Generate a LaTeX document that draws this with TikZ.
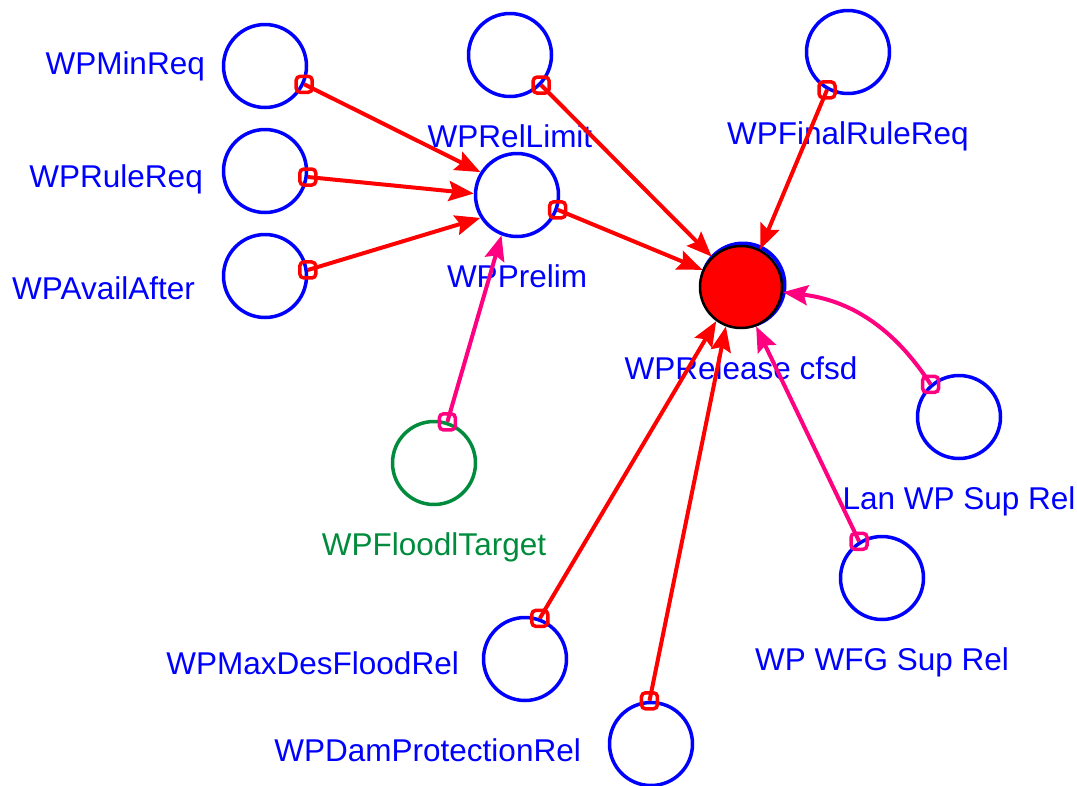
\documentclass[tikz,border=0pt]{standalone}
\usepackage{fontspec}
\setmainfont{Liberation Sans}
\usetikzlibrary{shapes.geometric, arrows.meta, positioning}
\definecolor{vpink}{RGB}{255,0,128}
\definecolor{vgreen}{RGB}{0,140,60}
\tikzstyle{var} = [circle, minimum size=83pt, inner sep=0pt, draw=blue, line width=3.5pt]
\tikzstyle{target} = [var, draw=vgreen]
\tikzstyle{result} = [circle, minimum size=82pt, inner sep=0pt, draw=black, line width=2.5pt, fill=red]
\tikzstyle{lbl} = [text=blue, font=\fontsize{31.5}{32}\selectfont, inner sep=0pt, text height=23pt, text depth=0pt]
\tikzstyle{tail} = [rectangle, rounded corners=4pt, minimum size=16pt, inner sep=0pt, draw=red, line width=3.5pt]
\tikzstyle{ptail} = [tail, draw=vpink]
\tikzstyle{link} = [red, line width=4pt, -{Stealth[length=25pt,width=20pt,inset=4pt]}]
\tikzstyle{plink} = [link, vpink]

\begin{document}
\begin{tikzpicture}[x=1pt, y=-1pt, node distance=81pt]
  \useasboundingbox (0,0) rectangle (1077,785);
  % variables
  \node (minreq) [var] at (265,66) {};
  \node (rulereq) [var] at (265,171) {};
  \node (availafter) [var] at (265,276) {};
  \node (rellimit) [var] at (510,55) {};
  \node (finalrule) [var] at (848,52) {};
  \node (prelim) [var] at (517,195) {};
  \node (floodtarget) [target] at (434,463) {};
  \node (lansup) [var] at (959,417) {};
  \node (wfgsup) [var] at (882,578) {};
  \node (maxdes) [var] at (525,659) {};
  \node (damprot) [var] at (651,744) {};
  \node (releasebg) [var, line width=4pt] at (743,285) {};
  \node (release) [result] at (741,287) {};
  % labels
  \node (minreqlbl) [lbl, anchor=east] at (205,63) {WPMinReq};
  \node (rulereqlbl) [lbl, anchor=east] at (203,176) {WPRuleReq};
  \node (availafterlbl) [lbl, anchor=east] at (195,288) {WPAvailAfter};
  \node (rellimitlbl) [lbl, below of=rellimit] {WPRelLimit};
  \node (finalrulelbl) [lbl, below of=finalrule] {WPFinalRuleReq};
  \node (prelimlbl) [lbl, below of=prelim] {WPPrelim};
  \node (releaselbl) [lbl, below of=release] {WPRelease cfsd};
  \node (floodtargetlbl) [lbl, text=vgreen, below of=floodtarget] {WPFloodlTarget};
  \node (lansuplbl) [lbl, below of=lansup] {Lan WP Sup Rel};
  \node (wfgsuplbl) [lbl, below of=wfgsup] {WP WFG Sup Rel};
  \node (maxdeslbl) [lbl, anchor=east] at (459,663) {WPMaxDesFloodRel};
  \node (damprotlbl) [lbl, anchor=east] at (581,750) {WPDamProtectionRel};
  % connector tails
  \node (minreqtail) [tail] at (minreq.-25) {};
  \node (rulereqtail) [tail] at (rulereq.-8) {};
  \node (availaftertail) [tail] at (availafter.8) {};
  \node (rellimittail) [tail] at (rellimit.-44) {};
  \node (prelimtail) [tail] at (prelim.-20) {};
  \node (finalruletail) [tail] at (finalrule.-119) {};
  \node (lansuptail) [ptail] at (lansup.131) {};
  \node (wfgsuptail) [ptail] at (wfgsup.122) {};
  \node (maxdestail) [tail] at (maxdes.70) {};
  \node (damprottail) [tail] at (damprot.92) {};
  \node (floodtargettail) [ptail] at (floodtarget.72) {};
  % connectors
  \draw [link] (minreqtail.center) -- (prelim.148);
  \draw [link] (rulereqtail.center) -- (prelim.178);
  \draw [link] (availaftertail.center) -- (prelim.212);
  \draw [link] (rellimittail.center) -- (release.134);
  \draw [link] (prelimtail.center) -- (release.156);
  \draw [link] (finalruletail.center) -- (release.63);
  \draw [plink] (lansuptail.center) to[bend right=25] (release.-7);
  \draw [plink] (wfgsuptail.center) -- (release.-69);
  \draw [link] (maxdestail.center) -- (release.-126);
  \draw [link] (damprottail.center) -- (release.-111);
  \draw [plink] (floodtargettail.center) -- (prelim.-111);
\end{tikzpicture}
\end{document}
